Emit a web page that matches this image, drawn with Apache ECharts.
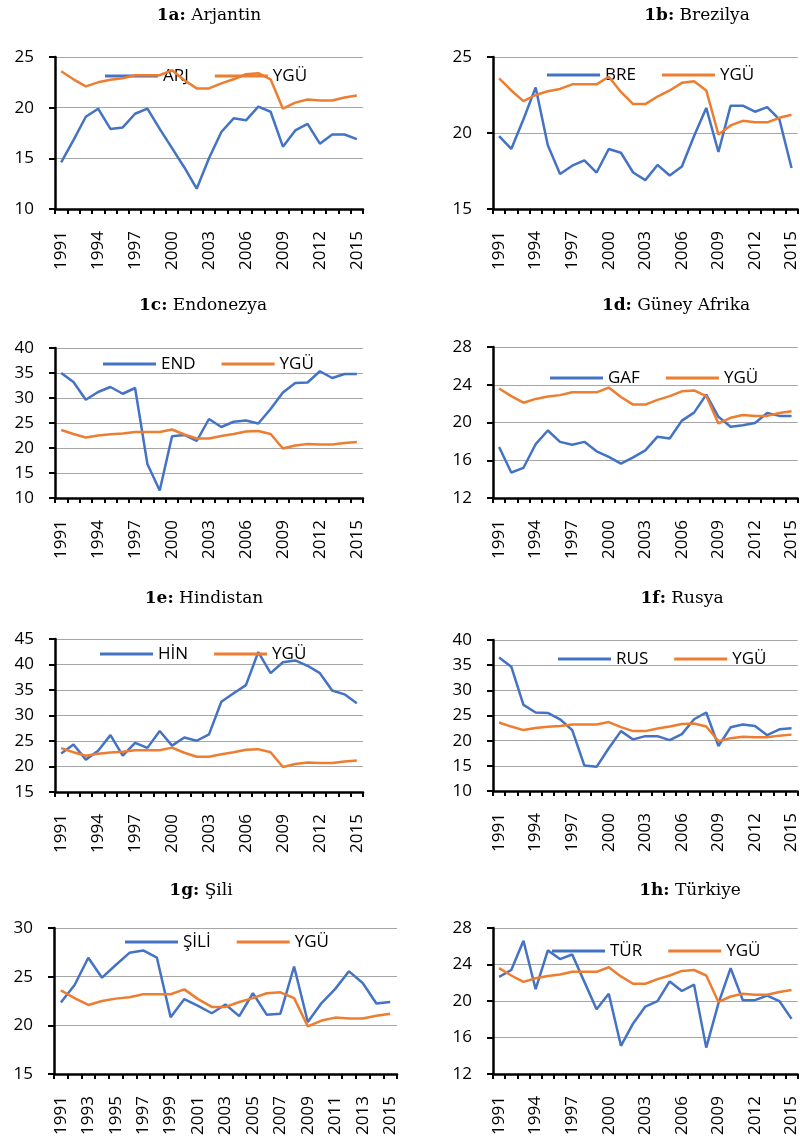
<!DOCTYPE html>
<html>
<head>
<meta charset="utf-8">
<script src="https://cdn.jsdelivr.net/npm/echarts@6/dist/echarts.min.js"></script>
<style>
html, body { margin: 0; padding: 0; background: #fff; }
#main { width: 800px; height: 1138px; }
</style>
</head>
<body>
<div id="main"></div>
<script>
var years = ['1991','1992','1993','1994','1995','1996','1997','1998','1999','2000','2001','2002','2003',
	'2004','2005','2006','2007','2008','2009','2010','2011','2012','2013','2014','2015'];

// dünya ortalaması (her panelde aynı)
var ygu = [23.6,22.8,22.1,22.5,22.75,22.9,23.2,23.2,23.2,23.7,22.7,21.9,21.9,22.4,22.8,23.3,23.4,22.8,19.9,20.5,20.8,20.7,20.7,21.0,21.2];

var arj = [14.6,16.8,19.1,19.9,17.9,18.05,19.4,19.9,17.9,16.0,14.1,12.0,15.0,17.6,18.95,18.75,20.1,19.6,16.15,17.75,18.4,16.45,17.35,17.35,16.9];
var bre = [19.8,18.95,20.9,23.0,19.2,17.3,17.85,18.2,17.4,18.95,18.7,17.4,16.9,17.9,17.2,17.8,19.8,21.65,18.75,21.8,21.8,21.4,21.7,20.9,17.7];
var end = [35.0,33.2,29.65,31.2,32.2,30.85,32.0,16.8,11.5,22.35,22.6,21.4,25.8,24.2,25.25,25.5,24.9,27.8,31.1,33.0,33.1,35.35,34.0,34.8,34.8];
var gaf = [17.4,14.7,15.2,17.7,19.15,17.95,17.65,17.95,16.95,16.35,15.65,16.3,17.05,18.5,18.3,20.2,21.05,22.95,20.6,19.55,19.7,19.95,21.0,20.7,20.7];
var hin = [22.55,24.3,21.35,23.1,26.15,22.15,24.65,23.65,26.95,24.1,25.7,25.05,26.3,32.7,34.35,35.95,42.45,38.3,40.45,40.8,39.75,38.3,34.9,34.15,32.4];
var rus = [36.5,34.7,27.1,25.6,25.5,24.25,22.1,15.05,14.8,18.5,21.9,20.25,20.9,20.9,20.1,21.3,24.25,25.6,18.95,22.65,23.2,22.9,21.1,22.25,22.45];
var sil = [22.35,24.15,26.95,24.9,26.2,27.45,27.7,26.95,20.85,22.7,22.0,21.25,22.15,20.95,23.3,21.1,21.2,26.05,20.35,22.3,23.75,25.55,24.35,22.25,22.4];
var tur = [22.65,23.4,26.6,21.3,25.55,24.6,25.1,22.1,19.1,20.8,15.1,17.55,19.4,20.0,22.15,21.1,21.8,14.9,19.75,23.6,20.1,20.1,20.6,20.0,18.05];

var panelCodes = ['1a','1b','1c','1d','1e','1f','1g','1h'];
var panelNames = ['Arjantin','Brezilya','Endonezya','Güney Afrika','Hindistan','Rusya','Şili','Türkiye'];
var seriesNames = ['ARJ','BRE','END','GAF','HİN','RUS','ŞİLİ','TÜR'];
var seriesData = [arj, bre, end, gaf, hin, rus, sil, tur];
var yMins = [10,15,10,12,15,10,15,12];
var yMaxs = [25,25,40,28,45,40,30,28];
var ySteps = [5,5,5,4,5,5,5,4];
var xLabelSkip = [2,2,2,2,2,2,1,2];

// yerleşim
var grids = [
	{left: 55, top: 57, width: 308, height: 152},
	{left: 493, top: 57, width: 307, height: 152},
	{left: 55, top: 348, width: 308, height: 150},
	{left: 493, top: 347, width: 307, height: 151},
	{left: 55, top: 639, width: 308, height: 153},
	{left: 493, top: 640, width: 307, height: 151},
	{left: 54, top: 928, width: 343, height: 152},
	{left: 493, top: 928, width: 307, height: 152}
];
var titlePos = [[209,7],[697,7],[203,297],[676,297],[204,590],[682,590],[201,882],[690,882]];
var legendPos = [[105,76],[547,75],[103,364],[550,378],[100,654],[558,659],[125,942],[552,951]];

var BLUE = '#4472C4', ORANGE = '#ED7D31';
var labelFont = '"Open Sans", sans-serif';
var titleFont = '"DejaVu Serif", serif';

var chart = echarts.init(document.getElementById('main'));

var titles = [], legends = [], xAxes = [], yAxes = [], series = [];
for (let i = 0; i < 8; i++) {
	titles.push({
		text: '{b|' + panelCodes[i] + ':} {n|' + panelNames[i] + '}',
		left: titlePos[i][0],
		top: titlePos[i][1],
		padding: 0,
		textAlign: 'center',
		textStyle: {
			fontWeight: 'normal',
			fontFamily: titleFont,
			fontSize: 17,
			rich: {
				b: {fontFamily: titleFont, fontWeight: 'bold', fontSize: 17, color: '#000'},
				n: {fontFamily: titleFont, fontWeight: 'normal', fontSize: 17, color: '#000'}
			}
		}
	});
	legends.push({
		left: legendPos[i][0],
		top: legendPos[i][1] - 10,
		padding: 0,
		orient: 'horizontal',
		icon: 'rect',
		itemWidth: 53,
		itemHeight: 3,
		itemGap: 26,
		selectedMode: false,
		data: [seriesNames[i], 'YGÜ'],
		textStyle: {fontFamily: labelFont, fontSize: 17, color: '#000', lineHeight: 20}
	});
	xAxes.push({
		type: 'category',
		gridIndex: i,
		data: years,
		boundaryGap: true,
		axisLine: {lineStyle: {color: '#000', width: 2.5}},
		axisTick: {show: true, interval: 0, length: 5, lineStyle: {color: '#000', width: 2}},
		axisLabel: {interval: xLabelSkip[i], rotate: 90, margin: 22, fontFamily: labelFont, fontSize: 17, color: '#000'},
		splitLine: {show: false}
	});
	yAxes.push({
		type: 'value',
		gridIndex: i,
		min: yMins[i],
		max: yMaxs[i],
		interval: ySteps[i],
		axisLine: {show: true, lineStyle: {color: '#000', width: 2.5}},
		axisTick: {show: true, length: 6, lineStyle: {color: '#000', width: 2}},
		axisLabel: {margin: 21, fontFamily: labelFont, fontSize: 17, color: '#000'},
		splitLine: {show: true, lineStyle: {color: '#a6a6a6', width: 1}}
	});
	series.push({
		name: seriesNames[i],
		type: 'line',
		xAxisIndex: i,
		yAxisIndex: i,
		data: seriesData[i],
		symbol: 'none',
		color: BLUE,
		lineStyle: {color: BLUE, width: 2.5},
		z: 3
	});
	series.push({
		name: 'YGÜ',
		type: 'line',
		xAxisIndex: i,
		yAxisIndex: i,
		data: ygu,
		symbol: 'none',
		color: ORANGE,
		lineStyle: {color: ORANGE, width: 2.5},
		z: 4
	});
}

chart.setOption({
	animation: false,
	backgroundColor: '#fff',
	title: titles,
	legend: legends,
	grid: grids,
	xAxis: xAxes,
	yAxis: yAxes,
	series: series
});
</script>
</body>
</html>
